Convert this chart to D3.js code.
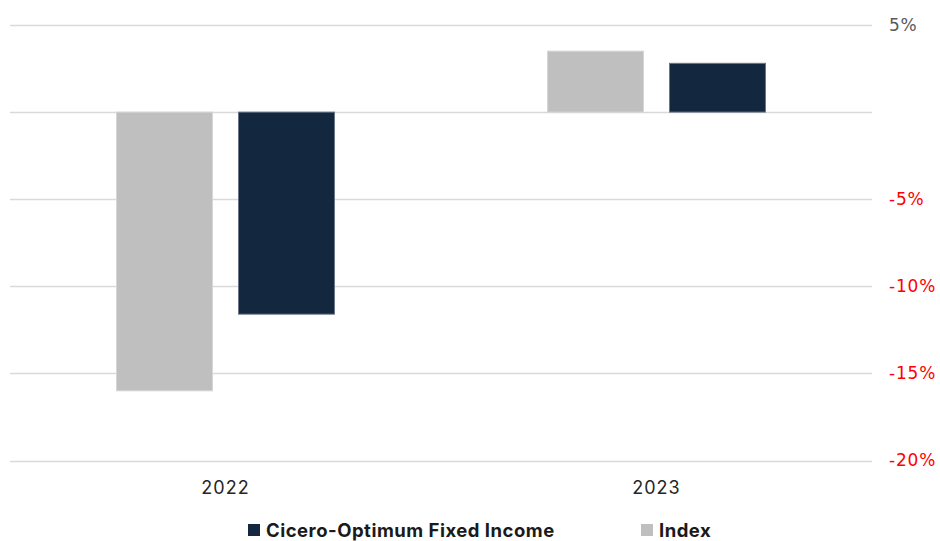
<!DOCTYPE html>
<html>
<head>
<meta charset="utf-8">
<script src="https://cdn.jsdelivr.net/npm/d3@7"></script>
<style>
  body { margin: 0; background: #fff; }
  svg { display: block; }
</style>
</head>
<body>
<div class="chartWrap"></div>
<script>
var width = 940,
  height = 541;

// data
var categories = ['2022', '2023'];
var seriesNames = ['Index', 'Cicero-Optimum Fixed Income'];
var indexValues = [-16.0, 3.5];
var ciceroValues = [-11.6, 2.8];
var tickValues = [5, 0, -5, -10, -15, -20];
var legendOrder = ['Cicero-Optimum Fixed Income', 'Index'];

var colors = {
  'Index': '#bfbfbf',
  'Cicero-Optimum Fixed Income': '#13273f'
};
var strokes = {
  'Index': '#d6d6d6',
  'Cicero-Optimum Fixed Income': '#6b7788'
};

var rows = categories.map(function(c, i) {
  return {cat: c, values: [
    {name: seriesNames[0], v: indexValues[i]},
    {name: seriesNames[1], v: ciceroValues[i]}
  ]};
});

var svg = d3.select('.chartWrap')
  .append('svg')
  .attr('width', width)
  .attr('height', height);

var plotLeft = 10, plotRight = 872;

var y = d3.scaleLinear()
  .domain([-20, 5])
  .range([460.5, 25]);

var x0 = d3.scaleBand()
  .domain(categories)
  .range([plotLeft, plotRight])
  .paddingInner(0)
  .paddingOuter(0);

// group is 218px wide inside a 431px band
var x1 = d3.scaleBand()
  .domain(seriesNames)
  .range([x0.bandwidth() / 2 - 109, x0.bandwidth() / 2 + 109])
  .paddingInner(26 / 122);

//gridlines
svg.append('g')
  .selectAll('line')
  .data(tickValues)
  .enter()
    .append('line')
    .attr('x1', plotLeft)
    .attr('x2', plotRight)
    .attr('y1', function(d) { return Math.round(y(d)) + 0.5; })
    .attr('y2', function(d) { return Math.round(y(d)) + 0.5; })
    .style('stroke', '#d9d9d9')
    .style('stroke-width', 1.3);

//right axis labels
var yAxis = d3.axisRight(y)
  .tickValues(tickValues.filter(function(d) { return d !== 0; }))
  .tickSize(0)
  .tickPadding(0)
  .tickFormat(function(d) { return d + '%'; });

var axisG = svg.append('g')
  .attr('transform', 'translate(889,0)')
  .call(yAxis);
axisG.select('.domain').remove();
axisG.selectAll('text')
  .style('font-family', '"DejaVu Sans", sans-serif')
  .style('font-size', '17px')
  .style('letter-spacing', '0.8px')
  .style('fill', function(d) { return d < 0 ? '#ff0000' : '#595959'; });

//bars
var groups = svg.append('g')
  .selectAll('g')
  .data(rows)
  .enter()
    .append('g')
    .attr('transform', function(d) { return 'translate(' + x0(d.cat) + ',0)'; });

groups.selectAll('rect')
  .data(function(d) { return d.values; })
  .enter()
    .append('rect')
    .attr('x', function(d) { return x1(d.name); })
    .attr('width', x1.bandwidth())
    .attr('y', function(d) { return Math.min(y(d.v), y(0)); })
    .attr('height', function(d) { return Math.abs(y(d.v) - y(0)); })
    .style('fill', function(d) { return colors[d.name]; })
    .style('stroke', function(d) { return strokes[d.name]; })
    .style('stroke-width', 1);

//category labels
svg.append('g')
  .selectAll('text')
  .data(categories)
  .enter()
    .append('text')
    .attr('x', function(d) { return x0(d) + x0.bandwidth() / 2; })
    .attr('y', 494)
    .attr('text-anchor', 'middle')
    .style('font-family', 'Inter, sans-serif')
    .style('font-size', '18px')
    .style('letter-spacing', '1px')
    .style('fill', '#262626')
    .text(function(d) { return d; });

//legend
var legendX = [248, 641];
var legend = svg.append('g')
  .selectAll('g')
  .data(legendOrder)
  .enter()
    .append('g')
    .attr('transform', function(d, i) { return 'translate(' + legendX[i] + ',524)'; });

legend.append('rect')
  .attr('width', 12)
  .attr('height', 12)
  .style('fill', function(d) { return colors[d]; });

legend.append('text')
  .attr('x', 18)
  .attr('y', 12.5)
  .style('font-family', 'Inter, sans-serif')
  .style('font-weight', 'bold')
  .style('font-size', '18.5px')
  .style('letter-spacing', '0.5px')
  .style('fill', '#1a1a1a')
  .text(function(d) { return d; });
</script>
</body>
</html>
